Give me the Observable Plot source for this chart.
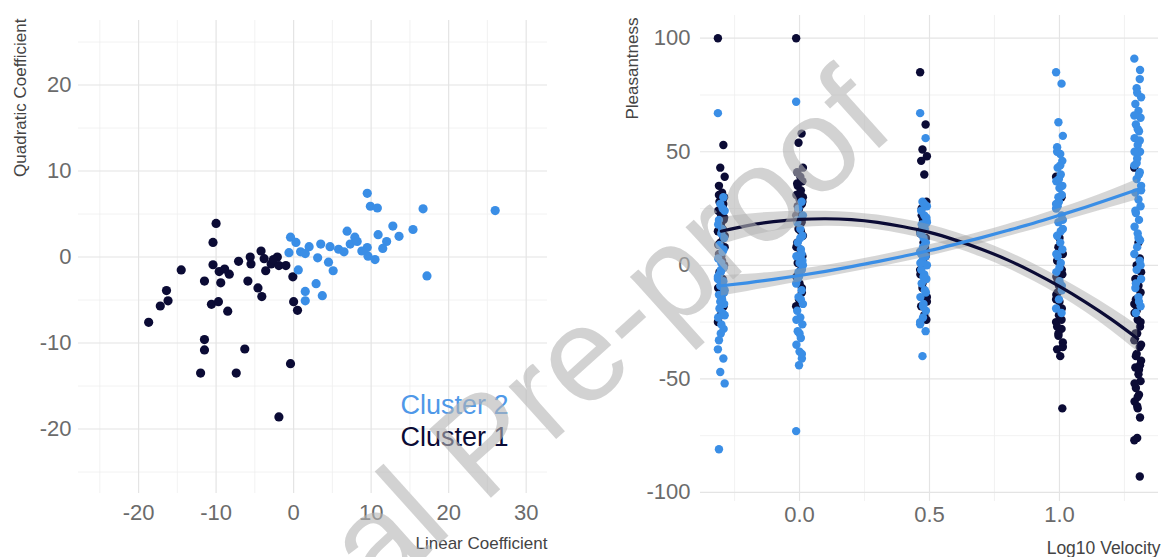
<!DOCTYPE html>
<html>
<head>
<meta charset="utf-8">
<script src="https://cdn.jsdelivr.net/npm/d3@7"></script>
<script src="https://cdn.jsdelivr.net/npm/@observablehq/plot@0.6"></script>
<style>
  html, body { margin: 0; padding: 0; background: #fff; }
  #wrap { position: relative; width: 1165px; height: 557px; display: flex; }
  #wm { position: absolute; left: 0; top: 0; pointer-events: none; }
</style>
</head>
<body>
<div id="wrap"></div>
<script>
// ---------- Left panel: cluster coefficients ----------
const linC1  = [-10.0,-10.4,-14.5,-10.4,-9.6,-8.3,-9.4,-11.5,-7.1,-5.6,-5.5,-4.2,-3.8,-3.6,-2.9,-2.1,-1.9,-1.0,-0.1,-5.9,-4.6,-4.1,-10.6,-9.7,-8.5,-16.4,-16.2,-17.2,-18.7,0.0,0.5,-11.5,-11.5,-6.3,-12.0,-7.4,-0.4,-1.9,-8.9,-2.6];
const quadC1 = [3.9,1.7,-1.5,-0.9,-1.7,-2.0,-3.0,-2.8,-0.5,0.0,-0.8,0.7,-0.2,-1.6,-0.8,0.0,-1.0,-1.0,-2.3,-2.8,-3.6,-4.6,-5.5,-5.2,-6.3,-3.9,-5.1,-5.7,-7.6,-5.2,-6.2,-9.6,-10.8,-10.7,-13.5,-13.5,-12.4,-18.6,-1.4,-0.3];
const linC2  = [9.5,9.9,10.8,16.7,26.0,15.4,12.8,13.6,10.9,12.0,6.9,7.9,7.3,9.5,9.6,10.5,8.8,3.5,4.7,5.8,6.5,3.1,4.5,5.1,-0.4,0.3,0.9,1.5,-0.6,17.2,2.9,3.7,1.5,1.5,0.6,2.0,8.2,11.5];
const quadC2 = [7.4,5.9,5.7,5.6,5.4,3.2,3.6,2.4,2.6,1.8,3.0,2.3,1.5,1.1,0.1,-0.3,0.7,1.5,1.2,0.9,0.6,-0.1,-0.6,-1.6,2.3,1.7,0.6,0.4,0.5,-2.2,-3.1,-4.5,-4.0,-5.1,-1.5,1.2,1.8,1.0];
const leftXTicks = [-20,-10,0,10,20,30];
const leftXMinor = [-25,-15,-5,5,15,25];
const leftYTicks = [-20,-10,0,10,20];
const leftYMinor = [-25,-15,-5,5,15,25];
const clusterLabels = ["Cluster 2","Cluster 1"];

// ---------- Right panel: pleasantness by log10 velocity ----------
const velocityLevels = [-0.301, 0, 0.477, 1, 1.301];
const pleasC1_v05 = [100,53,43,39,35,32,30,28,26,24,22,20,18,15,12,10,8,5,2,0,-3,-6,-10,-14,-18,-22,-25,27,17,13,31,25,21,19,16,9,4,-1];
const pleasC2_v05 = [67,30,27,24,20,16,12,9,6,3,1,-1,-3,-5,-7,-9,-11,-13,-15,-17,-19,-21,-23,-26,-28,-30,-37,-41,-47,-52,-81,-8,-12,-4,25,18,14,7,-2,-6,-10,-16,-22,-33];
const pleasC1_v1  = [100,58,54,43,41,39,37,35,33,31,29,27,25,22,19,16,13,10,7,4,1,-2,-5,-8,-12,-15,-18,20,24,30,36,32,28,26,15,8,2,-10];
const pleasC2_v1  = [72,28,25,22,19,16,13,10,7,4,1,-2,-5,-8,-11,-14,-17,-20,-23,-26,-29,-32,-35,-38,-41,-44,-73,5,-3,0,20,12,2,-6,-15,-24,-30,-39];
const pleasC1_v3  = [85,62,51,48,46,40,28,22,18,14,10,6,2,-2,-6,-10,-14,-18,-22,-24,25,8,-4,0,12,20,15,4,-8,-16];
const pleasC2_v3  = [67,56,28,26,24,22,20,18,16,14,12,10,8,6,4,2,0,-2,-4,-6,-8,-11,-14,-17,-20,-23,-26,-29,-40,19,5,27,21,15,9,1,-5,-12,-18,-25];
const pleasC1_v10 = [39,30,8,5,2,-1,-4,-7,-10,-13,-16,-19,-22,-25,-28,-31,-34,-37,-40,-63,-12,-20,-5,12,-2,-9,-15,-24,-30,-36,-27];
const pleasC2_v10 = [85,80,63,57,52,49,46,43,40,37,34,31,28,25,22,19,16,13,10,7,4,1,-3,-7,-11,-15,-19,-21,30,20,50,44,35,26,15,5,-1,-9,38,27];
const pleasC1_v20 = [43,3,0,-3,-6,-9,-12,-15,-18,-21,-24,-27,-30,-33,-36,-39,-42,-45,-48,-51,-54,-57,-60,-63,-67,-76,-77,-93,-20,-35,-30,10,-25,-40,-46,-52,-58,-44,-62,-17];
const pleasC2_v20 = [91,82,78,74,71,68,65,62,59,56,53,50,47,44,41,38,35,32,29,26,23,20,17,14,11,8,5,2,-2,-6,-10,-14,-18,-21,40,50,60,86,76,66,55,45,33,24,12,0,-8,-16];
const jitterPattern = [-0.013,0.008,-0.004,0.013,-0.009,0.003,0.011,-0.007,0.005,-0.012,0,0.009,-0.002];

// smooth fits
const fitX  = [-0.301,-0.2,-0.1,0,0.1,0.2,0.3,0.4,0.5,0.6,0.7,0.8,0.9,1.0,1.1,1.2,1.301];
const fitC1 = [15.0,17.5,19.2,20.2,20.5,20.1,18.9,17.0,14.5,11.1,7.1,2.4,-3.1,-9.3,-16.2,-23.8,-32.3];
const seC1  = [6,5,4.2,3.6,3.3,3.2,3.2,3.3,3.4,3.5,3.6,3.7,3.8,4,4.4,5,5.8];
const fitC2 = [-9.0,-7.7,-6.2,-4.5,-2.65,-0.6,1.6,4.0,6.5,9.3,12.2,15.3,18.5,22.0,25.6,29.4,33.4];
const seC2  = [4.5,3.8,3.2,2.8,2.6,2.5,2.5,2.5,2.5,2.5,2.6,2.7,2.8,3,3.3,3.8,4.5];
const rightXTicks = [0, 0.5, 1.0];
const rightXMinor = [-0.25, 0.25, 0.75, 1.25];
const rightYTicks = [-100,-50,0,50,100];
const rightYMinor = [-75,-25,25,75];

const DARK = "#0b0b35";
const BLUE = "#3a8ee6";
const TICK = "#6b6b6b";
const TITLE = "#444444";
const FONT = "'Liberation Sans', Arial, sans-serif";
const GRID_MAJOR = {stroke: "#e4e4e4", strokeWidth: 1.2};
const GRID_MINOR = {stroke: "#efefef", strokeWidth: 0.8};

const leftC1 = linC1.map((v, i) => ({lin: v, quad: quadC1[i]}));
const leftC2 = linC2.map((v, i) => ({lin: v, quad: quadC2[i]}));

const left = Plot.plot({
  width: 585, height: 557,
  marginLeft: 78, marginRight: 38, marginTop: 20, marginBottom: 64,
  style: {fontFamily: FONT, background: "white"},
  x: {domain: [-27.75, 32.75]},
  y: {domain: [-27.5, 27.5]},
  marks: [
    Plot.ruleX(leftXMinor, GRID_MINOR),
    Plot.ruleY(leftYMinor, GRID_MINOR),
    Plot.ruleX(leftXTicks, GRID_MAJOR),
    Plot.ruleY(leftYTicks, GRID_MAJOR),
    Plot.axisX(leftXTicks, {tickSize: 0, tickPadding: 11, fontSize: 22, color: TICK, label: null, tickFormat: d => String(d)}),
    Plot.axisY(leftYTicks, {tickSize: 0, tickPadding: 7, fontSize: 22, color: TICK, label: null, tickFormat: d => String(d)}),
    Plot.text(["Linear Coefficient"], {frameAnchor: "bottom-right", dy: 50, textAnchor: "end", lineAnchor: "middle", fontSize: 17, fill: TITLE}),
    Plot.text(["Quadratic Coefficient"], {frameAnchor: "top-left", dx: -58, dy: -2, rotate: -90, textAnchor: "end", lineAnchor: "middle", fontSize: 17, fill: TITLE}),
    Plot.dot(leftC1, {x: "lin", y: "quad", r: 4.6, fill: DARK, stroke: "none"}),
    Plot.dot(leftC2, {x: "lin", y: "quad", r: 4.6, fill: BLUE, stroke: "none"}),
    Plot.text([clusterLabels[0]], {frameAnchor: "bottom-right", dx: -147, dy: -88, textAnchor: "start", lineAnchor: "middle", fontSize: 27, fill: "#4f98e8"}),
    Plot.text([clusterLabels[1]], {frameAnchor: "bottom-right", dx: -147, dy: -56, textAnchor: "start", lineAnchor: "middle", fontSize: 27, fill: DARK})
  ]
});

function column(values, level) {
  return values.map((v, i) => ({x: level + jitterPattern[i % jitterPattern.length], y: v}));
}
const c1Groups = [pleasC1_v05, pleasC1_v1, pleasC1_v3, pleasC1_v10, pleasC1_v20];
const c2Groups = [pleasC2_v05, pleasC2_v1, pleasC2_v3, pleasC2_v10, pleasC2_v20];
const rightC1 = c1Groups.flatMap((g, k) => column(g, velocityLevels[k]));
const rightC2 = c2Groups.flatMap((g, k) => column(g, velocityLevels[k]));
const fit1 = fitX.map((x, i) => ({x, y: fitC1[i], lo: fitC1[i] - seC1[i], hi: fitC1[i] + seC1[i]}));
const fit2 = fitX.map((x, i) => ({x, y: fitC2[i], lo: fitC2[i] - seC2[i], hi: fitC2[i] + seC2[i]}));

const right = Plot.plot({
  width: 580, height: 557,
  marginLeft: 115, marginRight: 7, marginTop: 15, marginBottom: 56,
  style: {fontFamily: FONT, background: "white"},
  x: {domain: [-0.381, 1.381]},
  y: {domain: [-104, 110]},
  marks: [
    Plot.ruleX(rightXMinor, GRID_MINOR),
    Plot.ruleY(rightYMinor, GRID_MINOR),
    Plot.ruleX(rightXTicks, GRID_MAJOR),
    Plot.ruleY(rightYTicks, GRID_MAJOR),
    Plot.axisX(rightXTicks, {tickSize: 0, tickPadding: 5, fontSize: 22, color: TICK, label: null, tickFormat: d => d.toFixed(1)}),
    Plot.axisY(rightYTicks, {tickSize: 0, tickPadding: 10, fontSize: 22, color: TICK, label: null, tickFormat: d => String(d)}),
    Plot.text(["Log10 Velocity"], {frameAnchor: "bottom-right", dy: 47, dx: 2, textAnchor: "end", lineAnchor: "middle", fontSize: 17.5, fill: TITLE}),
    Plot.text(["Pleasantness"], {frameAnchor: "top-left", dx: -68, dy: 2, rotate: -90, textAnchor: "end", lineAnchor: "middle", fontSize: 17, fill: TITLE}),
    Plot.dot(rightC1, {x: "x", y: "y", r: 4.2, fill: DARK, stroke: "none"}),
    Plot.dot(rightC2, {x: "x", y: "y", r: 4.2, fill: BLUE, stroke: "none"}),
    Plot.areaY(fit1, {x: "x", y1: "lo", y2: "hi", fill: "#999999", fillOpacity: 0.4, curve: "natural"}),
    Plot.areaY(fit2, {x: "x", y1: "lo", y2: "hi", fill: "#999999", fillOpacity: 0.4, curve: "natural"}),
    Plot.line(fit1, {x: "x", y: "y", stroke: DARK, strokeWidth: 3.2, curve: "natural"}),
    Plot.line(fit2, {x: "x", y: "y", stroke: BLUE, strokeWidth: 3.2, curve: "natural"})
  ]
});

const wrap = document.getElementById("wrap");
wrap.appendChild(left);
wrap.appendChild(right);

// watermark overlay (text in the reference image)
const ns = "http://www.w3.org/2000/svg";
const wm = document.createElementNS(ns, "svg");
wm.setAttribute("id", "wm");
wm.setAttribute("width", 1165);
wm.setAttribute("height", 557);
const t = document.createElementNS(ns, "text");
t.setAttribute("x", 482);
t.setAttribute("y", 443);
t.setAttribute("transform", "rotate(-42 482 443)");
t.setAttribute("text-anchor", "middle");
t.setAttribute("dominant-baseline", "central");
t.setAttribute("font-family", FONT);
t.setAttribute("font-size", 134);
t.setAttribute("fill", "#b4b4b4");
t.setAttribute("fill-opacity", 0.6);
t.textContent = "Journal Pre-proof";
wm.appendChild(t);
wrap.appendChild(wm);
</script>
</body>
</html>
